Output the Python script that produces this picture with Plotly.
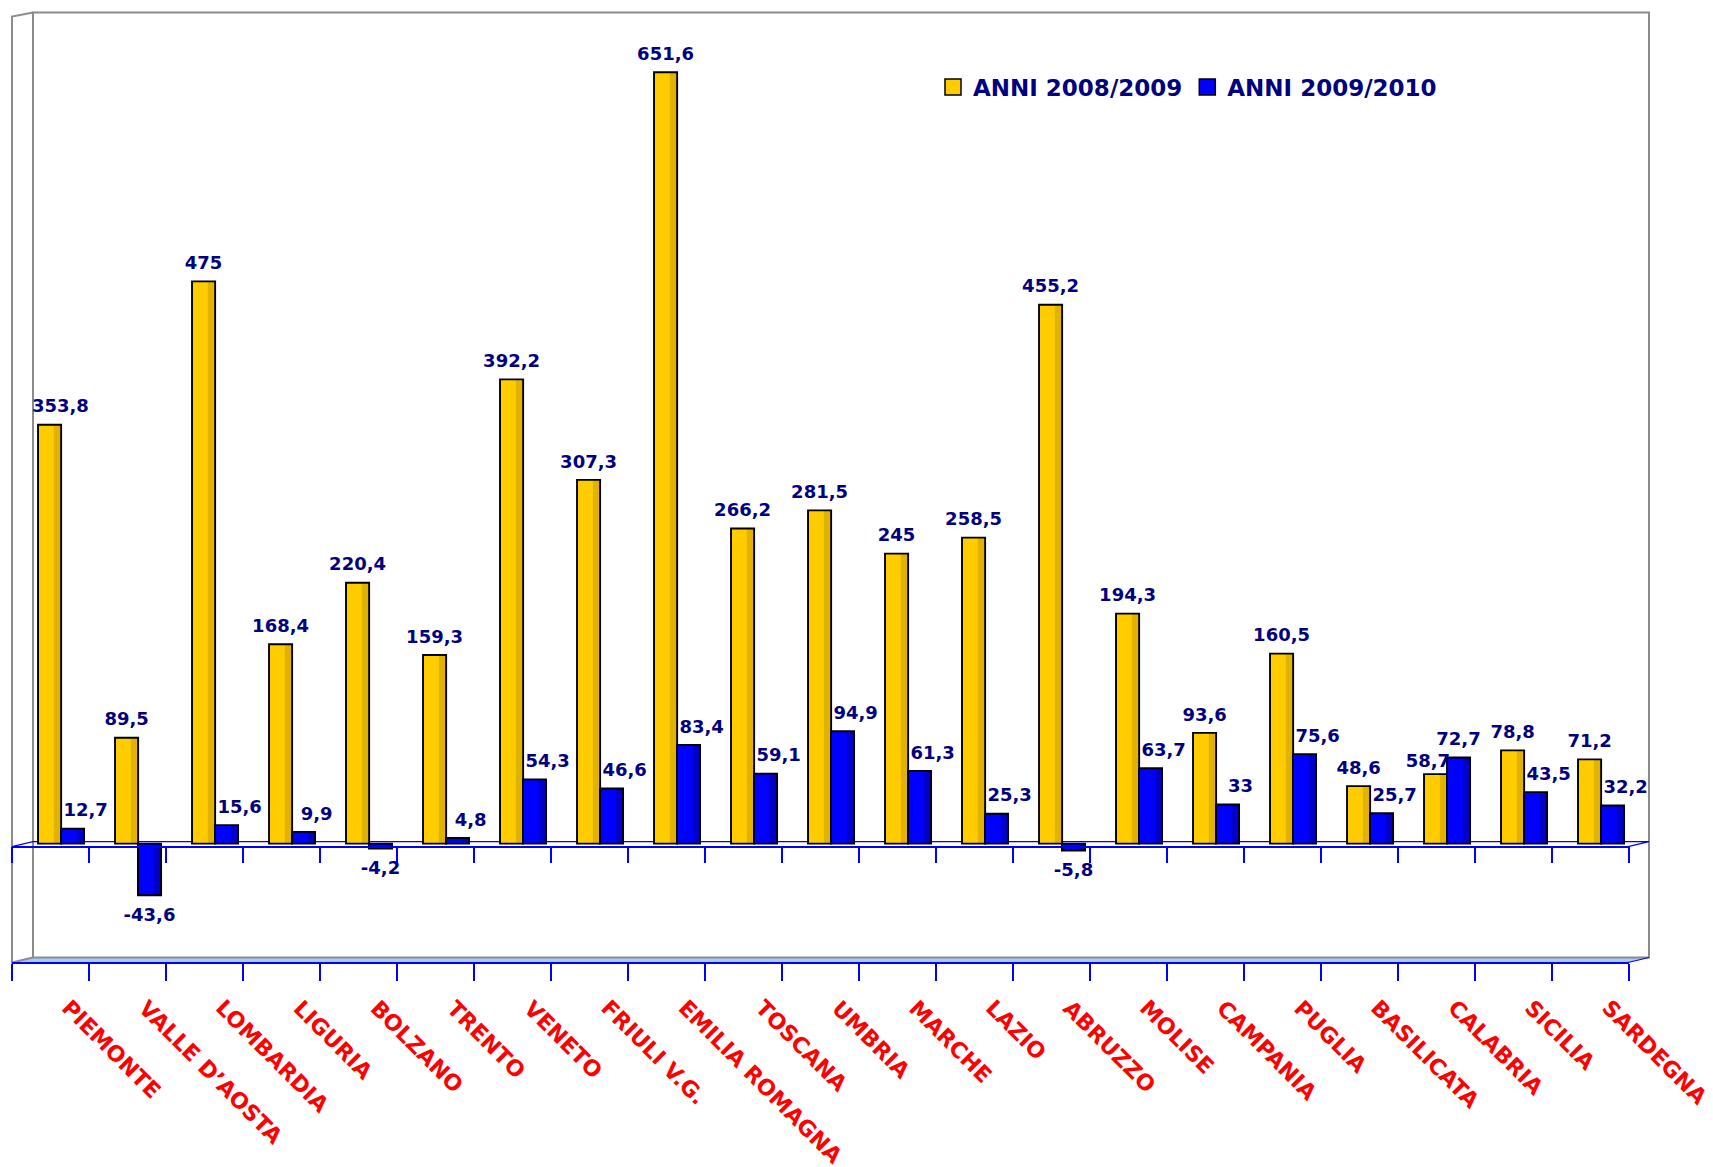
import plotly.graph_objects as go

categories = ["PIEMONTE", "VALLE D’AOSTA", "LOMBARDIA", "LIGURIA", "BOLZANO", "TRENTO",
              "VENETO", "FRIULI V.G.", "EMILIA ROMAGNA", "TOSCANA", "UMBRIA", "MARCHE",
              "LAZIO", "ABRUZZO", "MOLISE", "CAMPANIA", "PUGLIA", "BASILICATA",
              "CALABRIA", "SICILIA", "SARDEGNA"]
anni_2008_2009 = [353.8, 89.5, 475, 168.4, 220.4, 159.3, 392.2, 307.3, 651.6, 266.2, 281.5,
                  245, 258.5, 455.2, 194.3, 93.6, 160.5, 48.6, 58.7, 78.8, 71.2]
anni_2009_2010 = [12.7, -43.6, 15.6, 9.9, -4.2, 4.8, 54.3, 46.6, 83.4, 59.1, 94.9,
                  61.3, 25.3, -5.8, 63.7, 33, 75.6, 25.7, 72.7, 43.5, 32.2]
series_names = ["ANNI 2008/2009", "ANNI 2009/2010"]

# page has an 8px body margin: figure drawn from page (8, 8)
O = 8
FW, FH = 1713 - O, 1167 - O
PL, PT = 12, 14.5          # plot area left/top in page pixels
PW, PH = 1617, 948
L, T = PL - O, PT - O
R = FW - L - PW
B = FH - T - PH


def px(x):
    return (x - PL) / PW


def py(y):
    return (PT + PH - y) / PH


def fmt(v):
    return f"{v:g}".replace(".", ",")


FONT = "DejaVu Sans"
NAVY = "#000080"
BLUE = "#0000FF"
BW = 0.3
LABEL_PAD = 4.5   # extra gap (axis units) between a bar end and its label

# label placement rules (as in the 3-D original):
#  - the first label is kept inside the side wall
#  - a back-series label whose bar is lower than the front bar sits lower and to the left
#  - positive front-series labels lower than the back bar sit toward the bar's depth side
pairs = list(zip(anni_2008_2009, anni_2009_2010))
lab_shift_y = [0.14 if i == 0 else (-0.1 if b > a else 0.0) for i, (a, b) in enumerate(pairs)]
lab_pad_y = [0.0 if b > a else LABEL_PAD for a, b in pairs]
lab_shift_b = [0.17 if 0 < b < a else 0.0 for a, b in pairs]
lab_pad_b = [LABEL_PAD if b >= 0 else -LABEL_PAD for a, b in pairs]

series = [
    (anni_2008_2009, series_names[0], -0.162, "#FFCC00", "#E2B200", lab_shift_y, lab_pad_y),
    (anni_2009_2010, series_names[1], 0.136, "#0000FF", "#0000C8", lab_shift_b, lab_pad_b),
]

fig = go.Figure()
for vals, name, off, col, side, shift, pad in series:
    fig.add_trace(go.Bar(
        x=categories, y=vals, width=BW, offset=off,
        marker=dict(color=col, line=dict(width=0)),
        showlegend=False, hoverinfo="skip"))
    fig.add_trace(go.Bar(
        x=categories, y=vals, width=0.085, offset=off + BW - 0.095,
        marker=dict(color=side, line=dict(width=0)),
        showlegend=False, hoverinfo="skip"))
    fig.add_trace(go.Bar(
        x=categories, y=vals, width=BW, offset=off,
        marker=dict(color="rgba(0,0,0,0)", line=dict(color="black", width=1.9)),
        showlegend=False, hoverinfo="skip"))

for vals, name, off, col, side, shift, pad in series:
    fig.add_trace(go.Bar(
        x=categories, y=vals, base=pad,
        width=BW, offset=[off + s for s in shift],
        marker=dict(color="rgba(0,0,0,0)", line=dict(width=0)),
        text=[fmt(v) for v in vals], textposition="outside",
        textfont=dict(family=FONT, size=18, color=NAVY, weight="bold"),
        constraintext="none", cliponaxis=False, showlegend=False, hoverinfo="skip"))

for vals, name, off, col, side, shift, pad in series:
    fig.add_trace(go.Scatter(
        x=[None], y=[None], mode="markers", name=name,
        marker=dict(symbol="square", size=17, color=col, line=dict(color="black", width=1.5))))

# helper trace so that the zero-line tick axis is drawn
fig.add_trace(go.Scatter(x=[None], y=[None], xaxis="x2", showlegend=False, hoverinfo="skip"))

GRAY = "#8C8C8C"
shapes = []
shapes.append(dict(type="path", xref="paper", yref="paper",
                   path=f"M{px(12)},{py(963)} L{px(33)},{py(958)} L{px(1649)},{py(958)} L{px(1628)},{py(963)} Z",
                   fillcolor="#A6CAF0", line=dict(width=0), layer="below"))
shapes.append(dict(type="rect", xref="paper", yref="paper", x0=px(33), x1=px(1649), y0=py(958), y1=py(12),
                   line=dict(color=GRAY, width=2), layer="below"))
shapes.append(dict(type="path", xref="paper", yref="paper",
                   path=f"M{px(33)},{py(958)} L{px(12)},{py(963)} L{px(12)},{py(16)} L{px(33)},{py(12)}",
                   line=dict(color=GRAY, width=2), layer="below"))
shapes.append(dict(type="path", xref="paper", yref="paper",
                   path=f"M{px(12)},{py(847)} L{px(33)},{py(842)} L{px(1649)},{py(842)} L{px(1628)},{py(847)}",
                   line=dict(color=BLUE, width=1.2), layer="below"))
shapes.append(dict(type="line", xref="paper", yref="paper", x0=px(1628), y0=py(963), x1=px(1649), y1=py(958),
                   line=dict(color=BLUE, width=1.2), layer="below"))

annotations = []
for cat in categories:
    annotations.append(dict(
        x=cat, xref="x", y=py(993), yref="paper", text=cat, showarrow=False,
        textangle=45, xanchor="left", yanchor="top", xshift=4,
        font=dict(family=FONT, size=22, color="#FF0000", weight="bold")))

fig.update_layout(
    width=FW, height=FH,
    margin=dict(l=L, r=R, t=T, b=B, autoexpand=False),
    paper_bgcolor="white", plot_bgcolor="rgba(0,0,0,0)",
    barmode="overlay",
    shapes=shapes,
    annotations=annotations,
    showlegend=True,
    legend=dict(orientation="h", x=px(933), y=py(65), xanchor="left", yanchor="top",
                font=dict(family=FONT, size=23, color=NAVY, weight="bold"),
                bgcolor="rgba(0,0,0,0)", itemwidth=30, tracegroupgap=0),
    xaxis=dict(type="category", range=[-0.5, 20.5], tickson="boundaries", ticks="outside",
               ticklen=17, tickcolor=BLUE, tickwidth=1.5, showline=True, linecolor=BLUE,
               linewidth=1.5, showticklabels=False, showgrid=False, zeroline=False),
    xaxis2=dict(overlaying="x", anchor="free", position=py(847), range=[-0.5, 20.5],
                tickmode="array", tickvals=[i - 0.5 for i in range(len(categories) + 1)],
                ticks="outside", ticklen=16, tickcolor=BLUE, tickwidth=1.5, showline=True,
                linecolor=BLUE, linewidth=1.5, showticklabels=False, showgrid=False,
                zeroline=False, side="bottom"),
    yaxis=dict(range=[-100, 700], showticklabels=False, showgrid=False, zeroline=False,
               showline=False, ticks=""),
)

fig.write_html("out.html")
